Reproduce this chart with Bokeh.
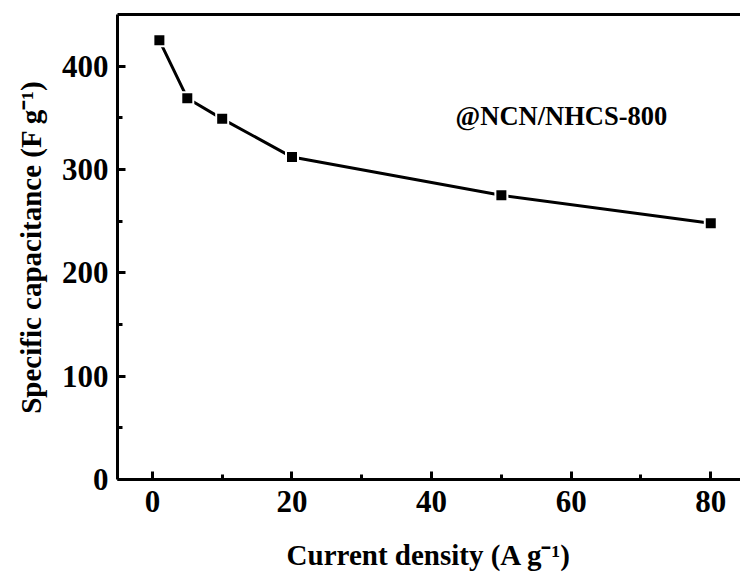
from bokeh.plotting import figure
from bokeh.models import Range1d, LinearAxis, FixedTicker, Label
from bokeh.embed import file_html
from bokeh.resources import INLINE

# Data
current_density = [1, 5, 10, 20, 50, 80]
capacitance = [425, 369, 349, 312, 275, 248]
x_ticks = [0, 20, 40, 60, 80]
x_minor = [10, 30, 50, 70]
y_ticks = [0, 100, 200, 300, 400]
y_minor = [50, 150, 250, 350]

FONT = "Liberation Serif"

p = figure(width=740, height=577, output_backend="svg", toolbar_location=None,
           x_range=Range1d(-5, 84.26), y_range=Range1d(0, 450),
           min_border_left=117, min_border_right=0, min_border_top=14,
           min_border_bottom=98, x_axis_location=None, y_axis_location=None)
p.grid.visible = False
p.outline_line_color = None
p.background_fill_color = "white"
p.border_fill_color = "white"

def style(ax):
    ax.axis_line_width = 3
    ax.axis_line_color = "black"
    ax.major_tick_line_width = 3
    ax.minor_tick_line_width = 3
    ax.major_tick_in = 8
    ax.major_tick_out = 0
    ax.minor_tick_in = 5
    ax.minor_tick_out = 0
    ax.major_label_text_font = FONT
    ax.major_label_text_font_style = "bold"
    ax.major_label_text_font_size = "31px"
    ax.major_label_text_color = "black"
    ax.axis_label_text_font = FONT
    ax.axis_label_text_font_style = "bold"
    ax.axis_label_text_font_size = "29px"
    ax.axis_label_text_color = "black"

xaxis = LinearAxis(ticker=FixedTicker(ticks=x_ticks, minor_ticks=x_minor),
                   axis_label="Current density (A g\u207b\u00b9)")
style(xaxis)
xaxis.major_label_standoff = 11
xaxis.axis_label_standoff = 24
p.add_layout(xaxis, "below")

yaxis = LinearAxis(ticker=FixedTicker(ticks=y_ticks, minor_ticks=y_minor),
                   axis_label="Specific capacitance (F g\u207b\u00b9)")
style(yaxis)
yaxis.major_label_standoff = 9
yaxis.axis_label_standoff = 12
p.add_layout(yaxis, "left")

top = LinearAxis(ticker=FixedTicker(ticks=[], minor_ticks=[]))
top.axis_line_width = 3
top.axis_line_color = "black"
top.major_tick_line_color = None
top.minor_tick_line_color = None
top.major_label_text_font_size = "0px"
p.add_layout(top, "above")

p.line(current_density, capacitance, line_color="black", line_width=3)
p.scatter(current_density, capacitance, marker="square", size=12,
          fill_color="black", line_color="white", line_width=2)

lab = Label(x=58.6, y=352, text="@NCN/NHCS-800", text_font=FONT,
            text_font_style="bold", text_font_size="26.5px", text_color="black",
            text_align="center", text_baseline="middle")
p.add_layout(lab)

open("out.html", "w").write(file_html(p, INLINE))
